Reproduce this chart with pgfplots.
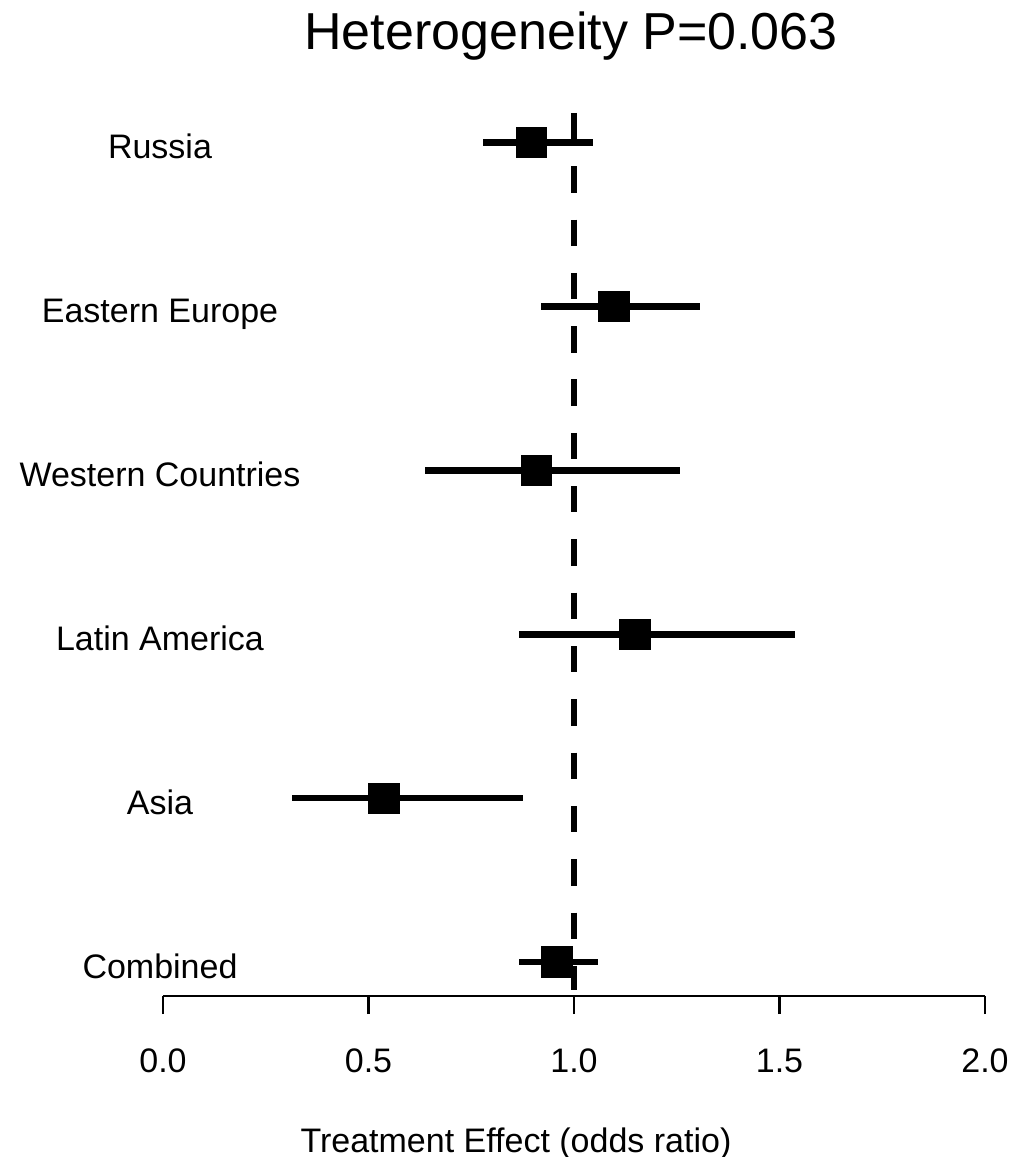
\documentclass[border=0pt]{standalone}
\usepackage{pgfplots}
\usepackage{pgfplotstable}
\pgfplotsset{compat=1.18}
\usepackage{fontspec}
\setmainfont{Liberation Sans}

% odds ratio with 95% confidence limits, one row per region
\pgfplotstableread{
row est lo hi
6 0.897 0.779 1.046
5 1.097 0.919 1.307
4 0.908 0.637 1.258
3 1.148 0.865 1.538
2 0.537 0.314 0.876
1 0.958 0.865 1.058
}\forestdata

\newcommand{\lblfont}{\fontsize{17}{20}\selectfont}

\begin{document}
\begin{tikzpicture}
\begin{axis}[
  scale only axis,
  width=411pt, height=441.5pt,
  xmin=0, xmax=2, ymin=0.7926, ymax=6.18,
  clip=false,
  axis x line*=bottom,
  axis y line=none,
  axis line style={line width=1.2pt, black},
  xtick={0,0.5,1,1.5,2},
  xticklabels={0.0,0.5,1.0,1.5,2.0},
  ytick=\empty,
  tick align=outside,
  major tick length=9pt,
  tick style={line width=1.2pt, black},
  /pgf/number format/assume math mode=true,
  xticklabel style={font=\lblfont, anchor=base, yshift=-29pt},
  xlabel={Treatment Effect (odds ratio)},
  xlabel style={font=\lblfont, at={(axis description cs:0.4294,0)}, anchor=base, yshift=-78pt},
  title={Heterogeneity P=0.063},
  title style={font=\fontsize{26}{30}\selectfont, at={(axis description cs:0.4964,1)}, anchor=base, yshift=25.5pt},
]
% reference line at no effect
\addplot[black, line width=3pt, dash pattern=on 13.2pt off 13.45pt]
  coordinates {(1,6.18) (1,0.829)};
% estimates with confidence intervals
\addplot[black, only marks, mark=square*, mark size=7.6pt,
  mark options={draw=none, fill=black},
  error bars/.cd, x dir=both, x explicit, error mark=none,
  error bar style={line width=3.3pt, black}]
  table[x=est, y=row,
        x error plus expr=\thisrow{hi}-\thisrow{est},
        x error minus expr=\thisrow{est}-\thisrow{lo}] {\forestdata};
% region names
\node[font=\lblfont, anchor=base, yshift=-8.15pt] at (axis cs:-0.0073,6) {Russia};
\node[font=\lblfont, anchor=base, yshift=-8.15pt] at (axis cs:-0.0073,5) {Eastern Europe};
\node[font=\lblfont, anchor=base, yshift=-8.15pt] at (axis cs:-0.0073,4) {Western Countries};
\node[font=\lblfont, anchor=base, yshift=-8.15pt] at (axis cs:-0.0073,3) {Latin America};
\node[font=\lblfont, anchor=base, yshift=-8.15pt] at (axis cs:-0.0073,2) {Asia};
\node[font=\lblfont, anchor=base, yshift=-8.15pt] at (axis cs:-0.0073,1) {Combined};
\end{axis}
\pgfresetboundingbox
\path[use as bounding box] (-81.5pt,-80.5pt) rectangle (429.5pt,498pt);
\end{tikzpicture}
\end{document}
